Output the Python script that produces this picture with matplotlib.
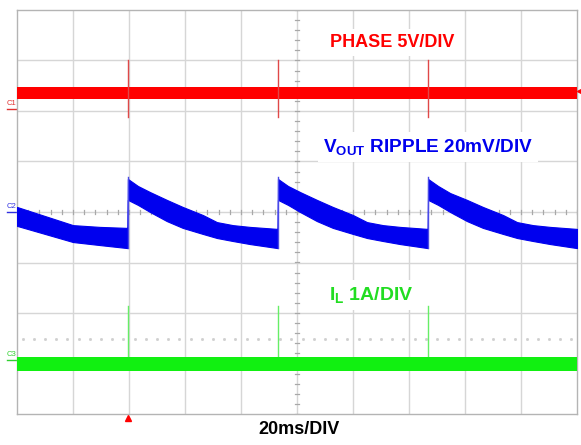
import matplotlib
matplotlib.use('Agg')
import matplotlib.pyplot as plt
import numpy as np

plt.rcParams['font.family'] = ['Liberation Sans', 'DejaVu Sans']
plt.rcParams['mathtext.fontset'] = 'custom'
plt.rcParams['mathtext.rm'] = 'Liberation Sans'
plt.rcParams['mathtext.bf'] = 'Liberation Sans:bold'
plt.rcParams['mathtext.it'] = 'Liberation Sans:italic'

# ---------------- data ----------------
TIME_PER_DIV_MS = 20
N_DIV_X = 10
N_DIV_Y = 8

pulse_times_ms = [39.6, 93.2, 146.8]

# CH1 PHASE, 5 V/div, ground marker offset (div)
PHASE_V_PER_DIV = 5.0
PHASE_OFFSET_DIV = 2.04
phase_band_hi_v = 2.18
phase_band_lo_v = 0.99
phase_spike_hi_v = 4.85
phase_spike_lo_v = -0.79

# CH2 VOUT ripple, 20 mV/div
VOUT_MV_PER_DIV = 20.0
VOUT_OFFSET_DIV = 0.0
vout_t_ms = [0.0, 10.0, 20.0, 29.6, 39.5,
             39.6, 43.2, 47.5, 53.5, 59.2, 66.4, 71.4, 77.1, 83.2, 93.1,
             93.2, 96.8, 101.1, 107.1, 112.8, 120.0, 125.0, 130.7, 136.8, 146.7,
             146.8, 150.4, 154.7, 160.7, 166.4, 173.6, 178.6, 184.3, 190.4, 200.0]
vout_hi_mv = [2.0, -1.6, -5.2, -5.9, -6.3,
              13.1, 10.3, 7.9, 4.8, 2.0, -1.2, -4.0, -5.2, -5.9, -6.7,
              13.1, 10.3, 7.9, 4.8, 2.0, -1.2, -4.0, -5.2, -5.9, -6.7,
              13.1, 10.3, 7.5, 4.8, 2.0, -1.2, -4.0, -5.2, -5.9, -6.7]
vout_lo_mv = [-5.5, -8.7, -11.9, -13.1, -14.3,
              4.8, 2.8, 0.0, -3.6, -6.3, -8.7, -10.3, -11.5, -12.7, -14.3,
              4.8, 2.8, 0.0, -3.6, -6.3, -8.7, -10.3, -11.5, -12.7, -14.3,
              4.8, 2.8, 0.0, -3.6, -6.3, -8.7, -10.3, -11.5, -12.7, -14.3]
vout_spike_top_mv = 13.9
vout_spike_bottom_mv = -14.3

# CH3 IL, 1 A/div
IL_A_PER_DIV = 1.0
IL_OFFSET_DIV = -2.93
il_band_hi_a = 0.06
il_band_lo_a = -0.22
il_spike_top_a = 1.07
il_dotted_level_a = 0.42

labels = {
    'phase': 'PHASE 5V/DIV',
    'vout': r'$\mathbf{V_{OUT}}$ RIPPLE 20mV/DIV',
    'il': r'$\mathbf{I_{L}}$ 1A/DIV',
    'time': '20ms/DIV',
}

# ---------------- figure ----------------
W, H = 581, 445
fig = plt.figure(figsize=(W / 100, H / 100), dpi=100)
ax = fig.add_axes([17 / W, 1 - 414 / H, 560 / W, 404 / H])
tmax = TIME_PER_DIV_MS * N_DIV_X
ax.set_xlim(0, tmax)
ax.set_ylim(-N_DIV_Y / 2, N_DIV_Y / 2)
ax.set_xticks([]); ax.set_yticks([])
for s in ax.spines.values():
    s.set_color('#b4b4b4'); s.set_linewidth(1.0)

gc = '#d6d6d6'
for i in range(1, N_DIV_X):
    ax.axvline(i * TIME_PER_DIV_MS, color=gc, lw=1.0, zorder=1)
for j in range(-N_DIV_Y // 2 + 1, N_DIV_Y // 2):
    ax.axhline(j, color=gc, lw=1.0, zorder=1)

# minor ticks on center lines
tc = '#a8a8a8'
xc = tmax / 2
for k in np.arange(0, tmax + 0.01, TIME_PER_DIV_MS / 5):
    ax.plot([k, k], [-0.045, 0.045], color=tc, lw=0.9, zorder=1.5)
for k in np.arange(-N_DIV_Y / 2, N_DIV_Y / 2 + 0.01, 0.2):
    ax.plot([xc - 0.75, xc + 0.75], [k, k], color=tc, lw=0.9, zorder=1.5)

# dotted cursor line in IL region
il_dot_div = IL_OFFSET_DIV + il_dotted_level_a / IL_A_PER_DIV
dot_x = np.arange(2, tmax, TIME_PER_DIV_MS / 5)
ax.plot(dot_x, np.full(len(dot_x), il_dot_div),
        ls='none', marker='s', ms=1.0, color='#cfcfcf', zorder=1.5)

# PHASE trace
ph = lambda v: PHASE_OFFSET_DIV + v / PHASE_V_PER_DIV
ax.fill_between([0, tmax], ph(phase_band_lo_v), ph(phase_band_hi_v), color='#ff0000', lw=0, zorder=3)
for t in pulse_times_ms:
    ax.plot([t, t], [ph(phase_spike_lo_v), ph(phase_spike_hi_v)], color='#e04848', lw=1.0, zorder=3.5)

# VOUT trace
vo = lambda v: VOUT_OFFSET_DIV + np.asarray(v) / VOUT_MV_PER_DIV
ax.fill_between(vout_t_ms, vo(vout_lo_mv), vo(vout_hi_mv), color='#0000ee', lw=0.8, edgecolor='#0000ee', zorder=3)
for t in pulse_times_ms:
    ax.plot([t, t], [vo(vout_spike_bottom_mv), vo(vout_spike_top_mv)], color='#4a4ae6', lw=1.0, zorder=3.5)

# IL trace
il = lambda a: IL_OFFSET_DIV + a / IL_A_PER_DIV
ax.fill_between([0, tmax], il(il_band_lo_a), il(il_band_hi_a), color='#11f011', lw=0, zorder=3)
for t in pulse_times_ms:
    ax.plot([t, t], [il(il_band_hi_a), il(il_spike_top_a)], color='#66ee66', lw=1.0, zorder=2.5)

# channel ground markers
px = tmax / 560.0
for name, off, col in [('C1', PHASE_OFFSET_DIV, '#e03030'), ('C2', VOUT_OFFSET_DIV, '#3030e0'),
                       ('C3', IL_OFFSET_DIV, '#30d030')]:
    ax.text(-10 * px, off + 0.07, name, fontsize=5.5, color=col, ha='left', va='baseline', clip_on=False)
    ax.plot([-10 * px, -1 * px], [off, off], color=col, lw=1.0, clip_on=False)

# trigger markers
ax.plot([pulse_times_ms[0]], [-4.085], marker='^', ms=5, color='#ff0000', clip_on=False, zorder=5)
ax.plot([tmax + 2.5 * px], [2.4], marker='<', ms=5, color='#ff0000', clip_on=False, zorder=5)

box = dict(boxstyle='square,pad=0.25', fc='white', ec='none')
ax.text((330 - 17) * px, (212 - 47) / 50.5, labels['phase'], color='#ff0000', fontsize=13,
        fontweight='bold', ha='left', va='baseline', bbox=box, zorder=6)
ax.text((323 - 17) * px, (212 - 152) / 50.5, labels['vout'], color='#0000ee', fontsize=13.7,
        fontweight='bold', ha='left', va='baseline', bbox=box, zorder=6)
ax.text((329 - 17) * px, (212 - 300) / 50.5, labels['il'], color='#22dd22', fontsize=14,
        fontweight='bold', ha='left', va='baseline', bbox=box, zorder=6)
ax.text((299 - 17) * px, (212 - 434) / 50.5, labels['time'], color='black', fontsize=13,
        fontweight='bold', ha='center', va='baseline', clip_on=False, zorder=6)

fig.savefig('out.png', dpi=100)
